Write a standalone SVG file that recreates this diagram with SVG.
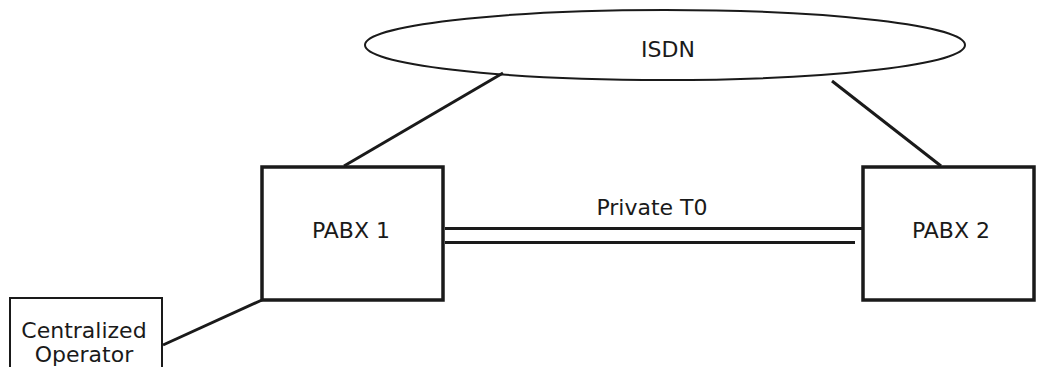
<svg xmlns="http://www.w3.org/2000/svg" width="1037" height="367" viewBox="0 0 1037 367">
<style>
.t{font-family:"DejaVu Sans","Liberation Sans",sans-serif;font-size:22px;fill:#1a1a1a;text-anchor:middle}
.box{fill:#fff;stroke:#1a1a1a;stroke-width:3.5}
.thin{fill:#fff;stroke:#1a1a1a;stroke-width:2}
.ln{stroke:#1a1a1a;stroke-width:3;fill:none}
</style>
<rect width="1037" height="367" fill="#fff"/>
<g id="connectors">
<line class="ln" x1="503" y1="73" x2="344" y2="166"/>
<line class="ln" x1="832" y1="81" x2="941" y2="166"/>
<line class="ln" x1="262" y1="300" x2="163" y2="345"/>
<line class="ln" x1="445" y1="228.5" x2="863" y2="228.5"/>
<line class="ln" x1="445" y1="242.5" x2="855" y2="242.5"/>
<text class="t" x="652" y="215">Private T0</text>
</g>
<g id="isdn">
<ellipse cx="665" cy="45" rx="300" ry="35" fill="none" stroke="#1a1a1a" stroke-width="2"/>
<text class="t" x="668" y="57">ISDN</text>
</g>
<g id="pabx1">
<rect class="box" x="262" y="167" width="181" height="133"/>
<text class="t" x="351" y="238">PABX 1</text>
</g>
<g id="pabx2">
<rect class="box" x="863" y="167" width="171" height="133"/>
<text class="t" x="951" y="238">PABX 2</text>
</g>
<g id="operator">
<rect class="thin" x="10" y="298" width="152" height="80"/>
<text class="t" x="84" y="338">Centralized</text>
<text class="t" x="84" y="362">Operator</text>
</g>
</svg>
